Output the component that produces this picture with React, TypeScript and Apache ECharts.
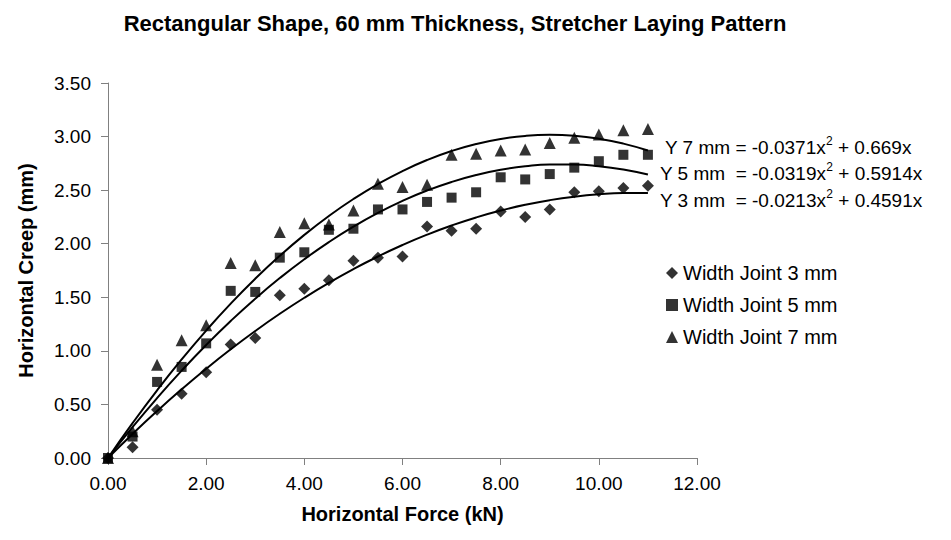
import React, { useEffect, useRef } from "react";
import * as echarts from "echarts";

const forceKN = [0, 0.5, 1, 1.5, 2, 2.5, 3, 3.5, 4, 4.5, 5, 5.5, 6, 6.5, 7, 7.5, 8, 8.5, 9, 9.5, 10, 10.5, 11];
const joint3 = [0, 0.1, 0.45, 0.6, 0.8, 1.06, 1.12, 1.52, 1.58, 1.66, 1.84, 1.87, 1.88, 2.16, 2.12, 2.14, 2.3, 2.25, 2.32, 2.48, 2.49, 2.52, 2.54];
const joint5 = [0, 0.2, 0.71, 0.85, 1.07, 1.56, 1.55, 1.87, 1.92, 2.13, 2.14, 2.32, 2.32, 2.39, 2.43, 2.48, 2.62, 2.6, 2.65, 2.71, 2.77, 2.83, 2.83];
const joint7 = [0, 0.25, 0.87, 1.1, 1.24, 1.82, 1.8, 2.11, 2.19, 2.18, 2.31, 2.56, 2.53, 2.55, 2.83, 2.84, 2.87, 2.88, 2.94, 2.99, 3.02, 3.06, 3.07];

// trendline coefficients [a, b] for y = a x^2 + b x (as labelled on the chart)
const trend3 = [-0.0213, 0.4591];
const trend5 = [-0.0319, 0.5914];
const trend7 = [-0.0371, 0.669];

const seriesNames = ["Width Joint 3 mm", "Width Joint 5 mm", "Width Joint 7 mm"];
const equationPrefix = ["Y 7 mm = -0.0371x", "Y 5 mm\u00a0\u00a0= -0.0319x", "Y 3 mm\u00a0\u00a0= -0.0213x"];
const equationSuffix = [" + 0.669x", " + 0.5914x", " + 0.4591x"];

const FONT = "'Liberation Sans', Arial, sans-serif";

function trendPoints(c: number[]) {
  return forceKN.map((x) => [x, c[0] * x * x + c[1] * x]);
}

export default function App() {
  const ref = useRef<HTMLDivElement>(null);
  useEffect(() => {
    if (!ref.current) return;
    const chart = echarts.init(ref.current, undefined, { renderer: "svg" });
    const scatter = (name: string, vals: number[], symbol: string, size: number) => ({
      name,
      type: "scatter",
      symbol,
      symbolSize: size,
      itemStyle: { color: "#000" },
      data: forceKN.map((x, i) => [x, vals[i]]),
      z: 3,
    });
    const trend = (c: number[]) => ({
      type: "line",
      data: trendPoints(c),
      smooth: true,
      showSymbol: false,
      symbol: "none",
      lineStyle: { color: "#000", width: 2 },
      z: 2,
      silent: true,
    });
    const eqY = [146, 172, 199];
    const eqX = [665, 660, 660];
    chart.setOption({
      animation: false,
      backgroundColor: "#fff",
      textStyle: { fontFamily: FONT },
      title: {
        text: "Rectangular Shape, 60 mm Thickness, Stretcher Laying Pattern",
        left: 450,
        textAlign: "center",
        top: 7,
        textStyle: { fontFamily: FONT, fontSize: 22, fontWeight: "bold", color: "#000" },
      },
      grid: { left: 108, top: 83, width: 589, height: 375, containLabel: false },
      legend: {
        data: seriesNames,
        orient: "vertical",
        left: 661,
        top: 258,
        itemGap: 12,
        itemWidth: 12,
        itemHeight: 12,
        itemStyle: { color: "#000" },
        textStyle: { fontFamily: FONT, fontSize: 20, color: "#000" },
      },
      xAxis: {
        type: "value",
        min: 0,
        max: 12,
        interval: 2,
        name: "Horizontal Force (kN)",
        nameLocation: "middle",
        nameGap: 46,
        nameTextStyle: { fontFamily: FONT, fontSize: 20, fontWeight: "bold", color: "#000" },
        axisLine: { show: true, lineStyle: { color: "#808080", width: 1 } },
        axisTick: { show: true, inside: false, length: 7, lineStyle: { color: "#808080" } },
        axisLabel: { fontFamily: FONT, fontSize: 19, color: "#000", margin: 16, formatter: (v: number) => v.toFixed(2) },
        splitLine: { show: false },
      },
      yAxis: {
        type: "value",
        min: 0,
        max: 3.5,
        interval: 0.5,
        name: "Horizontal Creep (mm)",
        nameLocation: "middle",
        nameGap: 72,
        nameRotate: 90,
        nameTextStyle: { fontFamily: FONT, fontSize: 20, fontWeight: "bold", color: "#000" },
        axisLine: { show: true, lineStyle: { color: "#808080", width: 1 } },
        axisTick: { show: true, inside: false, length: 7, lineStyle: { color: "#808080" } },
        axisLabel: { fontFamily: FONT, fontSize: 19, color: "#000", margin: 17, formatter: (v: number) => v.toFixed(2) },
        splitLine: { show: false },
      },
      graphic: equationPrefix.map((p, i) => ({
        type: "text",
        left: eqX[i],
        top: eqY[i] - 11,
        style: {
          text: `{b|${p}}{s|2}{b|${equationSuffix[i]}}`,
          rich: {
            b: { fontFamily: FONT, fontSize: 19, fill: "#000", color: "#000", lineHeight: 22, verticalAlign: "bottom" },
            s: { fontFamily: FONT, fontSize: 12, fill: "#000", color: "#000", lineHeight: 22, verticalAlign: "top", padding: [0, 0, 10, 0] },
          },
        },
      })),
      series: [
        scatter(seriesNames[0], joint3, "diamond", 12),
        scatter(seriesNames[1], joint5, "rect", 10),
        scatter(seriesNames[2], joint7, "triangle", 12),
        trend(trend3),
        trend(trend5),
        trend(trend7),
      ],
    });
    return () => chart.dispose();
  }, []);
  return <div ref={ref} style={{ position: "fixed", left: 0, top: 0, width: 951, height: 540 }} />;
}
